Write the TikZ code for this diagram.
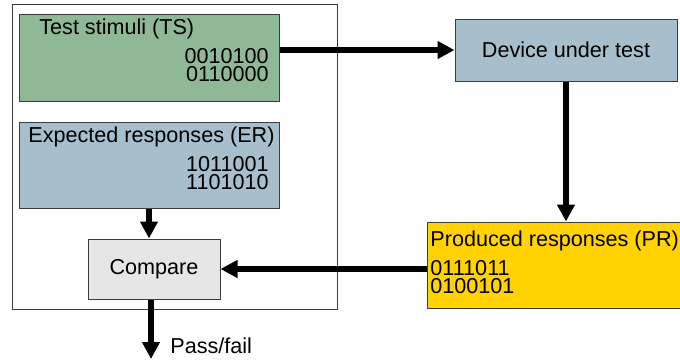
\documentclass[tikz,border=0pt]{standalone}
\usepackage{fontspec}
\setmainfont{Liberation Sans}
\usetikzlibrary{arrows.meta}
\definecolor{tsgreen}{HTML}{8FB996}
\definecolor{dutblue}{HTML}{A7BFCC}
\definecolor{prgold}{HTML}{FFD200}
\definecolor{cmpgrey}{HTML}{E6E6E6}
\definecolor{edgegrey}{HTML}{3C3C3C}

\begin{document}
\begin{tikzpicture}[x=0.5pt,y=-0.5pt,
  font=\fontsize{10.8}{8.8}\selectfont,
  box/.style={draw=edgegrey,line width=0.5pt,inner sep=0pt},
  flow/.style={line width=2.6pt,-{Triangle[length=8.5pt,width=8.5pt]}},
  txt/.style={inner sep=0pt}]
\useasboundingbox (0,0) rectangle (680,361);
% tester frame
\draw[edgegrey,line width=0.5pt] (12,4) rectangle (337,309);
% boxes
\node[box,fill=tsgreen,minimum width=130pt,minimum height=43.5pt] (ts) at (149,57.5) {};
\node[box,fill=dutblue,minimum width=130pt,minimum height=43pt] (er) at (149,165) {};
\node[box,fill=dutblue,minimum width=111pt,minimum height=31pt] (dut) at (566,50) {Device under test};
\node[box,fill=prgold,minimum width=131.5pt,minimum height=43pt] (pr) at (558.5,265) {};
\node[box,fill=cmpgrey,minimum width=66pt,minimum height=30pt] (cmp) at (154,269) {Compare\hspace{5.5pt}};
% texts in the boxes (base = last line)
\node[txt,anchor=base west] (tstitle) at (39,34.5) {Test stimuli (TS)};
\node[txt,anchor=base east,align=right] (tsdata) at (269,81.5) {0010100\\0110000};
\node[txt,anchor=base west] (ertitle) at (28,142) {Expected responses (ER)};
\node[txt,anchor=base east,align=right] (erdata) at (269,189.5) {1011001\\1101010};
\node[txt,anchor=base west] (prtitle) at (430,246) {Produced responses (PR)};
\node[txt,anchor=base west,align=left] (prdata) at (430,293.5) {0111011\\0100101};
% connectors
\coordinate (result) at (151,359);
\draw[flow] (ts.east |- dut.west) -- (dut.west);
\draw[flow] (dut.south) -- (dut.south |- pr.north);
\draw[flow] (pr.west |- cmp.east) -- (cmp.east);
\draw[flow] (er.south) -- (er.south |- cmp.north);
\draw[flow] (cmp.south -| result) -- (result);
\node[txt,anchor=base west] (verdict) at (170,353) {Pass/fail};
\end{tikzpicture}
\end{document}
